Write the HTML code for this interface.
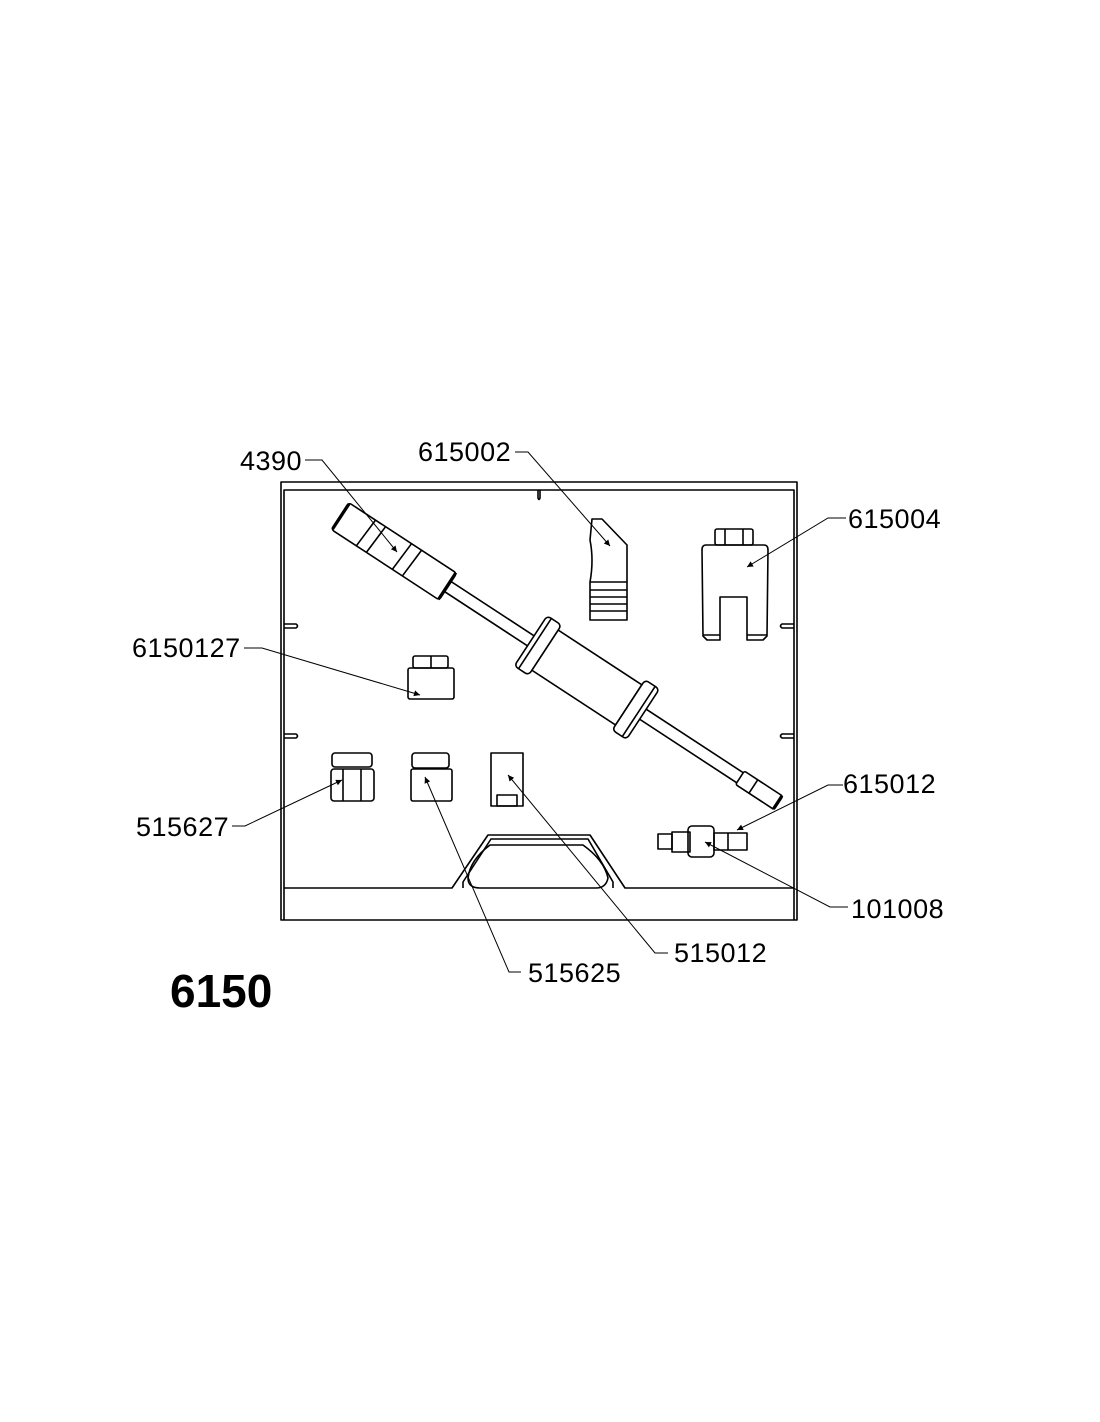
<!DOCTYPE html>
<html><head><meta charset="utf-8"><style>
html,body{margin:0;padding:0;background:#fff;}
svg{display:block}
text{font-family:"Liberation Sans",sans-serif;font-size:27px;letter-spacing:0.5px;fill:#000}
</style></head><body>
<svg width="1100" height="1422" viewBox="0 0 1100 1422" xmlns="http://www.w3.org/2000/svg">
<defs>
<marker id="ah" viewBox="0 0 10 10" refX="10" refY="5" markerWidth="9" markerHeight="6" orient="auto" markerUnits="userSpaceOnUse">
<path d="M0,0 L10,5 L0,10 z" fill="#000"/></marker>
</defs>
<g fill="none" stroke="#000" stroke-width="1.6" stroke-linejoin="round">
<!-- case -->
<rect x="281" y="482" width="516" height="438"/>
<path d="M284,920 V490 H794 V920"/>
<path d="M284,888 H452 L488,835 H590 L625,888 H794"/>
<path d="M463,888 V882 L491,839 H588 L613,882 V888"/>
<path d="M480,888 Q468,888 468,878 Q470,860 490,845 H583 Q604,860 608,878 Q606,888 596,888 Z"/>
<!-- notches -->
<path d="M538,490 V498 Q539,501 540,498 V490"/>
<path d="M284,624 H296 Q299,626 296,628 H284"/>
<path d="M284,734 H296 Q299,736 296,738 H284"/>
<path d="M794,624 H782 Q779,626 782,628 H794"/>
<path d="M794,734 H782 Q779,736 782,738 H794"/>
<!-- slide hammer -->
<g transform="translate(340,516) rotate(33.2)">
<rect x="129" y="-6" width="360" height="12" fill="#fff"/>
<rect x="0" y="-16" width="129" height="32" rx="3" fill="#fff"/>
<line x1="32" y1="-16" x2="30" y2="16"/><line x1="44" y1="-16" x2="42" y2="16"/>
<line x1="75" y1="-16" x2="73" y2="16"/><line x1="87" y1="-16" x2="85" y2="16"/>
<line x1="128" y1="-16" x2="128" y2="16" stroke-width="3"/>
<line x1="1" y1="-15" x2="1" y2="15" stroke-width="3"/>
<rect x="245" y="-24" width="100" height="48" fill="#fff"/>
<rect x="228" y="-30" width="17" height="60" rx="4" fill="#fff"/>
<line x1="233" y1="-30" x2="233" y2="30"/>
<rect x="345" y="-30" width="17" height="60" rx="4" fill="#fff"/>
<line x1="357" y1="-30" x2="357" y2="30"/>
<rect x="478" y="-8" width="46" height="16" rx="2" fill="#fff"/>
<line x1="494" y1="-8" x2="494" y2="8"/>
<line x1="523" y1="-8" x2="523" y2="8" stroke-width="3"/>
</g>
<!-- 615002 -->
<path d="M592,519 H602 L627,545 V620 H590 V582 Q594,560 590,540 Z"/>
<line x1="590" y1="582" x2="627" y2="582"/><line x1="590" y1="590" x2="627" y2="590"/>
<line x1="590" y1="597" x2="627" y2="597"/><line x1="590" y1="604" x2="627" y2="604"/>
<line x1="590" y1="611" x2="627" y2="611"/>
<!-- 615004 -->
<rect x="715" y="529" width="38" height="16" rx="2"/>
<line x1="725" y1="529" x2="725" y2="545"/><line x1="743" y1="529" x2="743" y2="545"/>
<path d="M706,545 H764 Q768,545 768,550 L767,636 L763,640 H747 V597 H720 V640 H707 L703,636 L702,550 Q702,545 706,545 Z"/>
<line x1="703" y1="635" x2="720" y2="635"/><line x1="747" y1="635" x2="767" y2="635"/>
<!-- 6150127 -->
<rect x="413" y="656" width="35" height="12" rx="2"/>
<line x1="431" y1="656" x2="431" y2="668"/>
<rect x="408" y="668" width="46" height="31" rx="2"/>
<!-- 515627 -->
<rect x="332" y="753" width="40" height="14" rx="3"/>
<rect x="331" y="769" width="43" height="32" rx="3"/>
<line x1="343" y1="769" x2="343" y2="801"/><line x1="361" y1="769" x2="361" y2="801"/>
<!-- 515625 -->
<rect x="412" y="753" width="37" height="15" rx="3"/>
<rect x="411" y="769" width="41" height="32" rx="2"/>
<!-- 515012 -->
<rect x="491" y="753" width="32" height="53"/>
<rect x="497" y="795" width="20" height="11"/>
<!-- 615012 part -->
<rect x="658" y="834" width="14" height="15"/>
<rect x="672" y="832" width="18" height="20"/>
<rect x="688" y="826" width="26" height="31" rx="4"/>
<rect x="714" y="833" width="33" height="17"/>
<line x1="728" y1="833" x2="728" y2="850"/>
</g>
<!-- leaders -->
<g fill="none" stroke="#000" stroke-width="1">
<polyline points="305,460 322,460 397,552" marker-end="url(#ah)"/>
<polyline points="515,452 528,452 610,546" marker-end="url(#ah)"/>
<polyline points="846,518 828,518 747,567" marker-end="url(#ah)"/>
<polyline points="244,648 262,648 420,695" marker-end="url(#ah)"/>
<polyline points="232,826 245,826 342,780" marker-end="url(#ah)"/>
<polyline points="521,972 509,972 425,777" marker-end="url(#ah)"/>
<polyline points="668,953 655,953 508,775" marker-end="url(#ah)"/>
<polyline points="843,785 828,785 737,830" marker-end="url(#ah)"/>
<polyline points="848,907 830,907 705,842" marker-end="url(#ah)"/>
</g>
<text x="240" y="470">4390</text>
<text x="418" y="461">615002</text>
<text x="848" y="528">615004</text>
<text x="132" y="657">6150127</text>
<text x="136" y="836">515627</text>
<text x="843" y="793">615012</text>
<text x="851" y="918">101008</text>
<text x="674" y="962">515012</text>
<text x="528" y="982">515625</text>
<text x="170" y="1007" style="font-weight:bold;font-size:46px;letter-spacing:0">6150</text>
</svg>
</body></html>
